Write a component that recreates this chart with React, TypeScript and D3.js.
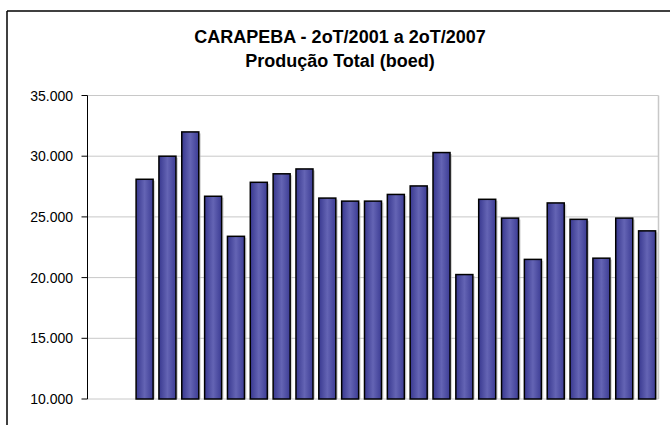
import React from "react";
import * as d3 from "d3";

const categories = [
  "2T01", "3T01", "4T01",
  "1T02", "2T02", "3T02", "4T02",
  "1T03", "2T03", "3T03", "4T03",
  "1T04", "2T04", "3T04", "4T04",
  "1T05", "2T05", "3T05", "4T05",
  "1T06", "2T06", "3T06", "4T06",
  "1T07", "2T07",
];
const production: (number | null)[] = [
  null, null, 28100,
  30000, 32000, 26700, 23400,
  27850, 28550, 28950, 26550,
  26300, 26300, 26850, 27550,
  30300, 20250, 26450, 24900,
  21500, 26150, 24800, 21600,
  24900, 23850,
];
const yTicks = [10000, 15000, 20000, 25000, 30000, 35000];
const titleLines = ["CARAPEBA - 2oT/2001 a 2oT/2007", "Produção Total (boed)"];

const W = 670;
const H = 425;
const plot = { left: 87.5, right: 658.5, top: 95.5, bottom: 399 };

const locale = d3.formatLocale({ decimal: ",", thousands: ".", grouping: [3], currency: ["R$", ""] });
const fmt = locale.format(",.0f");

export default function App() {
  const x = d3
    .scaleBand<string>()
    .domain(categories)
    .range([plot.left, plot.right])
    .paddingInner(0.255)
    .paddingOuter(0.1275);
  const y = d3.scaleLinear().domain([10000, 35000]).range([plot.bottom, plot.top]);
  const font = "Arial, 'Liberation Sans', Helvetica, sans-serif";

  return (
    <svg
      width={W}
      height={H}
      style={{ position: "absolute", left: 0, top: 0, background: "#fff" }}
    >
      <defs>
        <linearGradient id="barGrad" x1="0" x2="1" y1="0" y2="0">
          <stop offset="0%" stopColor="#38388f" />
          <stop offset="50%" stopColor="#6464b4" />
          <stop offset="100%" stopColor="#3c3c94" />
        </linearGradient>
      </defs>
      <rect x={0} y={0} width={W} height={H} fill="#fff" />
      {/* outer frame */}
      <line x1={7} y1={11} x2={W} y2={11} stroke="#000" strokeWidth={1.5} />
      <line x1={7} y1={11} x2={7} y2={H} stroke="#000" strokeWidth={1.5} />

      {/* titles */}
      {titleLines.map((t, i) => (
        <text
          key={t}
          x={340}
          y={42.7 + i * 24}
          textAnchor="middle"
          fontFamily={font}
          fontWeight="bold"
          fontSize={18}
          fill="#000"
        >
          {t}
        </text>
      ))}

      {/* gridlines */}
      {yTicks.map((t) => (
        <line
          key={t}
          x1={plot.left}
          x2={plot.right}
          y1={y(t)}
          y2={y(t)}
          stroke="#c8c8c8"
          strokeWidth={1}
        />
      ))}
      {/* plot border right */}
      <line
        x1={plot.right}
        x2={plot.right}
        y1={plot.top}
        y2={plot.bottom}
        stroke="#c8c8c8"
        strokeWidth={1.5}
      />

      {/* bars */}
      {categories.map((c, i) => {
        const v = production[i];
        if (v == null) return null;
        const bx = x(c)!;
        const bw = x.bandwidth();
        const by = y(v);
        const bh = plot.bottom - by;
        return (
          <g key={c}>
            <rect x={bx + 2} y={by + 1.5} width={bw} height={bh - 1.5} fill="#b4b4b4" opacity={0.6} />
            <rect
              x={bx}
              y={by}
              width={bw}
              height={bh}
              fill="url(#barGrad)"
              stroke="#000"
              strokeWidth={1.5}
            />
          </g>
        );
      })}

      {/* y axis */}
      <line x1={plot.left} x2={plot.left} y1={plot.top} y2={plot.bottom} stroke="#000" strokeWidth={1} />
      {yTicks.map((t) => (
        <g key={t}>
          <line x1={plot.left - 6} x2={plot.left} y1={y(t)} y2={y(t)} stroke="#000" strokeWidth={1} />
          <text
            x={73}
            y={y(t)}
            dy="0.36em"
            textAnchor="end"
            fontFamily={font}
            fontSize={14}
            fill="#000"
          >
            {fmt(t)}
          </text>
        </g>
      ))}
    </svg>
  );
}
